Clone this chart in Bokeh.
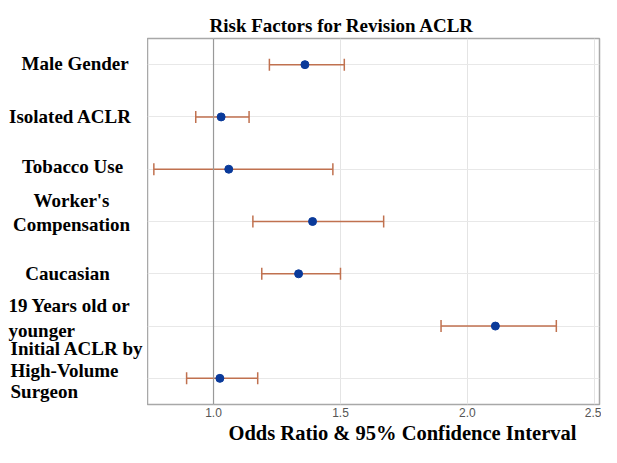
from bokeh.plotting import figure
from bokeh.layouts import row
from bokeh.models import Range1d, FixedTicker, Whisker, ColumnDataSource, Span, Label, Title
from bokeh.embed import file_html
from bokeh.resources import INLINE

categories = ["Male  Gender", "Isolated ACLR", "Tobacco Use", "Worker's\nCompensation",
              "Caucasian", "19 Years old or\nyounger", "Initial ACLR by\nHigh-Volume\nSurgeon"]
odds = [1.36, 1.03, 1.06, 1.39, 1.335, 2.11, 1.025]
lower = [1.22, 0.93, 0.765, 1.155, 1.19, 1.896, 0.894]
upper = [1.515, 1.14, 1.47, 1.67, 1.50, 2.35, 1.174]
x_ticks = [1.0, 1.5, 2.0, 2.5]

n = len(categories)
ypos = [n - i for i in range(n)]
src = ColumnDataSource(dict(y=ypos, odds=odds, lower=lower, upper=upper))

TOP, BOTTOM, LEFTW, H = 38, 43, 147, 447
yr = Range1d(0.5, n + 0.5)

p = figure(width=601 - LEFTW, height=H, output_backend="svg", toolbar_location=None,
           x_range=Range1d(0.74, 2.52), y_range=yr,
           min_border_left=0, min_border_right=2, min_border_top=TOP, min_border_bottom=BOTTOM)

p.title.text = "Risk Factors for Revision ACLR"
p.title.text_font = "Liberation Serif"
p.title.text_font_size = "19px"
p.title.text_font_style = "bold"
p.title.text_color = "black"
p.title.align = "left"
p.title.offset = 62
p.title.standoff = 5

p.outline_line_color = "#a8a8a8"
p.outline_line_width = 1.5

p.xaxis.ticker = FixedTicker(ticks=x_ticks)
p.xaxis.major_label_overrides = {t: f"{t:.1f}" for t in x_ticks}
p.xaxis.axis_line_color = None
p.xaxis.major_tick_line_color = None
p.xaxis.minor_tick_line_color = None
p.xaxis.major_tick_out = 0
p.xaxis.minor_tick_out = 0
p.xaxis.major_label_text_font = "Liberation Sans"
p.xaxis.major_label_text_font_size = "12px"
p.xaxis.major_label_text_color = "#555555"
p.xaxis.major_label_standoff = 3

p.add_layout(Title(text="Odds Ratio & 95% Confidence Interval", align="left", offset=81,
                   text_font="Liberation Serif", text_font_size="20.5px",
                   text_font_style="bold", text_color="black", standoff=0), "below")

p.yaxis.visible = False
p.ygrid.ticker = FixedTicker(ticks=ypos)
p.xgrid.grid_line_color = "#e4e4e4"
p.ygrid.grid_line_color = "#e8e8e8"

p.add_layout(Span(location=1.0, dimension="height", line_color="#999999", line_width=1.2))

w = Whisker(source=src, base="y", lower="lower", upper="upper", dimension="width",
            line_color="#c0714f", line_width=1.5)
for head in (w.upper_head, w.lower_head):
    head.line_color = "#c0714f"
    head.size = 12
    head.line_width = 1.5
p.add_layout(w)

p.scatter("odds", "y", source=src, size=8, color="#0a3a9a")

# left label panel: frames of a row are aligned, labels are annotations
lab = figure(width=LEFTW, height=H, output_backend="svg", toolbar_location=None,
             x_range=Range1d(0, LEFTW), y_range=yr,
             x_axis_location=None, y_axis_location=None,
             min_border_left=0, min_border_right=0, min_border_top=TOP, min_border_bottom=BOTTOM)
lab.grid.visible = False
lab.outline_line_color = None

aligns = ["center", "center", "center", "center", "center", "left", "left"]
xs = [77, 70, 72, 71, 67, 8, 10]
yoffs = [1, 0, 3, 9, 0, 8, 8]
lheights = [1.15, 1.15, 1.15, 1.15, 1.15, 1.15, 1.03]
for cat, y, al, xx, yo, lh in zip(categories, ypos, aligns, xs, yoffs, lheights):
    lab.add_layout(Label(x=xx, y=y, text=cat, text_align=al, text_baseline="middle",
                         y_offset=yo, text_font="Liberation Serif", text_font_size="19px",
                         text_font_style="bold", text_line_height=lh, text_color="black"))

open("out.html", "w").write(file_html(row(lab, p), INLINE))
